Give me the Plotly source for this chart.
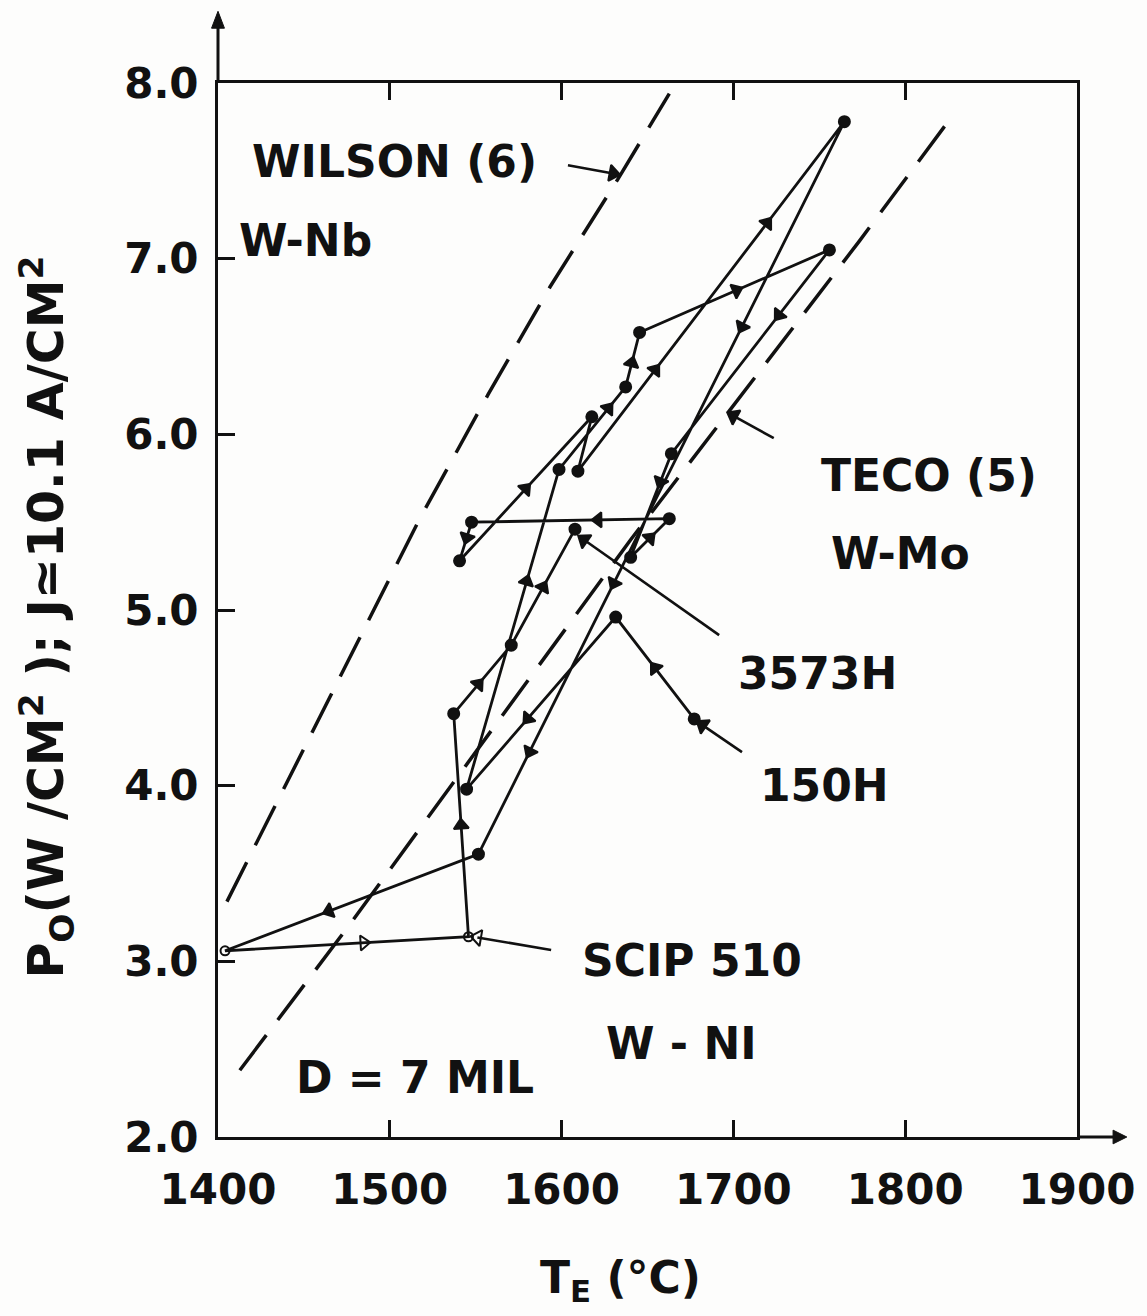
import plotly.graph_objects as go

# ---------------- data ----------------
# life-test trajectory: emitter temperature (deg C) vs output power density (W/cm2)
path_T = [1677.2, 1631.5, 1544.7, 1598.5, 1637.3, 1645.4, 1755.9, 1663.9, 1640.2, 1662.7,
          1547.6, 1540.6, 1617.6, 1609.5, 1764.6, 1551.6, 1404.1, 1545.8, 1537.2, 1570.7, 1607.8]
path_P = [4.38, 4.96, 3.98, 5.80, 6.27, 6.58, 7.05, 5.89, 5.30, 5.52,
          5.50, 5.28, 6.10, 5.79, 7.78, 3.61, 3.06, 3.14, 4.41, 4.80, 5.46]
open_points = [16, 17]          # open-circle points (SCIP 510 readings)

# direction arrows: (segment index, fraction along segment)
arrow_spots = [(0, 0.5), (1, 0.59), (2, 0.65), (3, 0.74), (4, 0.44), (5, 0.51), (6, 0.32),
               (7, 0.27), (8, 0.5), (9, 0.36), (10, 0.4), (11, 0.5), (13, 0.29), (13, 0.71),
               (14, 0.28), (14, 0.63), (14, 0.86), (15, 0.59), (16, 0.57), (17, 0.5),
               (18, 0.43), (19, 0.5)]
open_arrow_segments = [16]

wilson_T = [1405.2, 1516.9, 1557.4, 1593.3, 1632.6, 1662.7]
wilson_P = [3.34, 5.51, 6.23, 6.84, 7.45, 7.94]
teco_T = [1412.7, 1477.5, 1640.2, 1773.3, 1828.0]
teco_P = [2.38, 3.22, 5.40, 7.10, 7.82]

x_ticks = [1400, 1500, 1600, 1700, 1800, 1900]
y_ticks = [2.0, 3.0, 4.0, 5.0, 6.0, 7.0, 8.0]

labels = [
    ("WILSON (6)", 1503.0, 7.555),
    ("W-Nb", 1451.0, 7.105),
    ("TECO (5)", 1813.8, 5.768),
    ("W-Mo", 1797.0, 5.324),
    ("3573H", 1749.0, 4.641),
    ("150H", 1753.0, 4.003),
    ("SCIP 510", 1676.0, 3.007),
    ("W - NI", 1669.7, 2.535),
    ("D = 7 MIL", 1514.6, 2.336),
]
# pointer arrows: (tail T, tail P, tip T, tip P, open head)
pointers = [
    (1603.7, 7.532, 1630.0, 7.485, False),
    (1723.5, 5.978, 1700.0, 6.105, False),
    (1691.7, 4.857, 1613.0, 5.400, False),
    (1705.0, 4.191, 1682.0, 4.345, False),
    (1593.9, 3.064, 1551.0, 3.136, True),
]

INK = "#111111"
FONT = dict(family="DejaVu Sans", weight="bold", color=INK)

fig = go.Figure()

# dashed reference curves
for xs, ys in [(wilson_T, wilson_P), (teco_T, teco_P)]:
    fig.add_trace(go.Scatter(x=xs, y=ys, mode="lines",
                             line=dict(color=INK, width=3.5, dash="44px,19px"),
                             hoverinfo="skip", showlegend=False))

# trajectory
symbols = ["circle-open" if i in open_points else "circle" for i in range(len(path_T))]
sizes = [9 if i in open_points else 11 for i in range(len(path_T))]
fig.add_trace(go.Scatter(x=path_T, y=path_P, mode="lines+markers",
                         line=dict(color=INK, width=2.8),
                         marker=dict(symbol=symbols, size=sizes, color=INK, opacity=1,
                                     line=dict(color=INK, width=2)),
                         showlegend=False))

# direction arrows along segments
ax_, ay_, asz, asym = [], [], [], []
for seg, f in arrow_spots:
    x0, y0 = path_T[seg], path_P[seg]
    x1, y1 = path_T[seg + 1], path_P[seg + 1]
    ax_ += [x0, x0 + f * (x1 - x0)]
    ay_ += [y0, y0 + f * (y1 - y0)]
    asz += [0, 13]
    sym = "triangle-up-open" if seg in open_arrow_segments else "triangle-up"
    asym += [sym, sym]
fig.add_trace(go.Scatter(x=ax_, y=ay_, mode="markers",
                         marker=dict(symbol=asym, size=asz, color=INK, angleref="previous",
                                     opacity=1, line=dict(color=INK, width=2)),
                         hoverinfo="skip", showlegend=False))

# label pointers (line, plus arrowhead marker at the tip)
for sx, sy, tx, ty, op in pointers:
    sym = "triangle-up-open" if op else "triangle-up"
    fig.add_trace(go.Scatter(x=[sx, tx], y=[sy, ty], mode="lines",
                             line=dict(color=INK, width=2.6),
                             hoverinfo="skip", showlegend=False))
    fig.add_trace(go.Scatter(x=[sx, tx], y=[sy, ty], mode="markers",
                             marker=dict(symbol=sym, size=[0, 14], color=INK, opacity=1,
                                         angleref="previous", line=dict(color=INK, width=2)),
                             hoverinfo="skip", showlegend=False))

annotations = []
for text, x, y in labels:
    annotations.append(dict(text=text, x=x, y=y, xref="x", yref="y", showarrow=False,
                            xanchor="center", yanchor="middle", font=dict(size=44, **FONT)))
# axis titles
annotations.append(dict(text="P<sub>O</sub>(W /CM<sup>2</sup> ); J\u224310.1 A/CM<sup>2</sup>",
                        x=-0.2, y=0.493, xref="paper", yref="paper", showarrow=False,
                        textangle=-90, xanchor="center", yanchor="middle",
                        font=dict(size=49, **FONT)))
annotations.append(dict(text="T<sub>E</sub> (\u00b0C)", x=0.469, y=-0.136, xref="paper",
                        yref="paper", showarrow=False, xanchor="center", yanchor="middle",
                        font=dict(size=44, **FONT)))

# axis arrows (extensions of the axes beyond the frame)
shapes = [
    dict(type="line", xref="paper", yref="paper", x0=0, y0=1, x1=0, y1=1.055,
         line=dict(color=INK, width=3)),
    dict(type="path", xref="paper", yref="paper",
         path="M -0.0075 1.052 L 0 1.068 L 0.0075 1.052 Z", fillcolor=INK,
         line=dict(color=INK, width=1)),
    dict(type="line", xref="paper", yref="paper", x0=1, y0=0, x1=1.045, y1=0,
         line=dict(color=INK, width=3)),
    dict(type="path", xref="paper", yref="paper",
         path="M 1.042 0.0065 L 1.058 0 L 1.042 -0.0065 Z", fillcolor=INK,
         line=dict(color=INK, width=1)),
]

fig.update_layout(
    width=1147, height=1316,
    margin=dict(l=218, r=65, t=83, b=179),
    paper_bgcolor="#fdfdfc", plot_bgcolor="#fdfdfc",
    annotations=annotations, shapes=shapes,
    xaxis=dict(range=[1400, 1900], tickvals=x_ticks, ticktext=[str(v) for v in x_ticks],
               showgrid=False, zeroline=False, showline=True, linecolor=INK, linewidth=3,
               mirror="ticks", ticks="inside", ticklen=17, tickwidth=2.5, tickcolor=INK,
               tickfont=dict(size=42, **FONT), ticklabelstandoff=14),
    yaxis=dict(range=[2, 8], tickvals=y_ticks, ticktext=[f"{v:.1f}" for v in y_ticks],
               showgrid=False, zeroline=False, showline=True, linecolor=INK, linewidth=3,
               mirror=True, ticks="inside", ticklen=17, tickwidth=2.5, tickcolor=INK,
               tickfont=dict(size=42, **FONT), ticklabelstandoff=8),
)

fig.write_html("out.html")
